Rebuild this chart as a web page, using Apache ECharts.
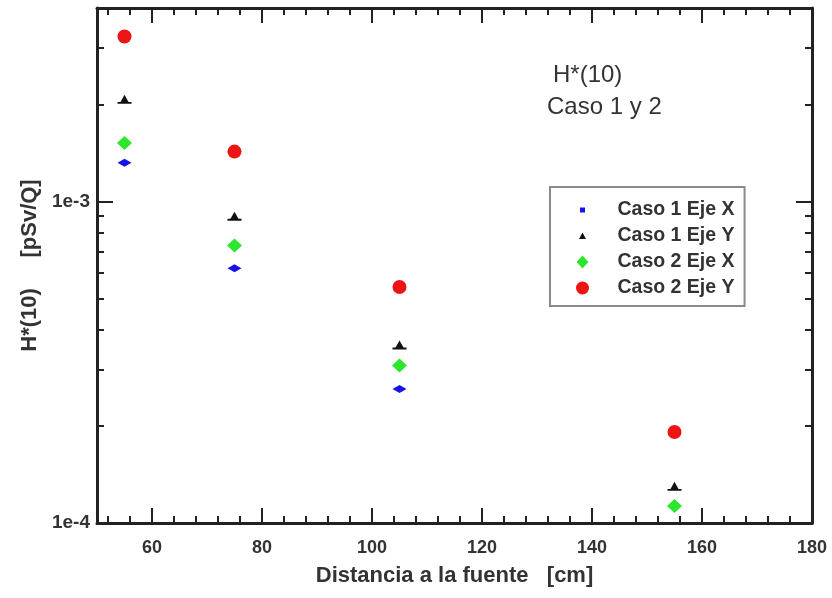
<!DOCTYPE html>
<html>
<head>
<meta charset="utf-8">
<script src="https://cdn.jsdelivr.net/npm/echarts@6/dist/echarts.min.js"></script>
<style>
  html, body { margin: 0; padding: 0; background: #fff; }
  #chart { width: 832px; height: 598px; }
</style>
</head>
<body>
<div id="chart"></div>
<script>
// distancia a la fuente [cm]
var distancias = [55, 75, 105, 155];
// H*(10) [pSv/Q]
var caso1EjeX = [1.32e-3, 6.2e-4, 2.61e-4, null];
var caso1EjeY = [2.08e-3, 9.0e-4, 3.58e-4, 1.30e-4];
var caso2EjeX = [1.52e-3, 7.3e-4, 3.09e-4, 1.13e-4];
var caso2EjeY = [3.26e-3, 1.43e-3, 5.42e-4, 1.92e-4];

var xTicks = [60, 80, 100, 120, 140, 160, 180];
var xMinorTicks = [52, 56, 64, 68, 72, 76, 84, 88, 92, 96, 104, 108, 112, 116,
  124, 128, 132, 136, 144, 148, 152, 156, 164, 168, 172, 176];
var yMinorTicks = [2e-4, 3e-4, 4e-4, 5e-4, 6e-4, 7e-4, 8e-4, 9e-4, 2e-3, 3e-3];

var FONT = '"Liberation Sans", Arial, sans-serif';
var AXIS_COLOR = '#222';

function pares(valores) {
  var out = [];
  distancias.forEach(function (d, i) {
    if (valores[i] != null) out.push([d, valores[i]]);
  });
  return out;
}

function etiquetaLog(v) {
  var e = Math.log10(v);
  var r = Math.round(e);
  if (Math.abs(e - r) > 1e-6) return '';
  return '1e' + r;
}

// one axis per side for the major ticks, one more for the minor ones
function ejeX(pos, minor, principal) {
  return {
    type: 'value', position: pos, min: 50, max: 180,
    splitLine: { show: false },
    axisLine: { show: !minor, onZero: false, lineStyle: { color: AXIS_COLOR, width: 3 } },
    axisTick: {
      show: true, inside: true, length: minor ? 7 : 15,
      customValues: minor ? xMinorTicks : xTicks,
      lineStyle: { color: AXIS_COLOR, width: 2 }
    },
    axisLabel: {
      show: principal, customValues: xTicks, margin: 16,
      fontFamily: FONT, fontWeight: 'bold', fontSize: 18, color: '#333'
    },
    name: principal ? 'Distancia a la fuente   [cm]' : '',
    nameLocation: 'middle', nameGap: 42,
    nameTextStyle: { fontFamily: FONT, fontWeight: 'bold', fontSize: 22, color: '#333' }
  };
}

function ejeY(pos, minor, principal) {
  var eje = {
    type: 'log', logBase: 10, position: pos, min: 1e-4, max: 4e-3,
    splitLine: { show: false },
    minorTick: { show: false },
    axisLine: { show: !minor, onZero: false, lineStyle: { color: AXIS_COLOR, width: 3 } },
    axisTick: {
      show: true, inside: true, length: minor ? 7 : 16,
      lineStyle: { color: AXIS_COLOR, width: 2 }
    },
    axisLabel: {
      show: principal, margin: 7, formatter: etiquetaLog,
      fontFamily: FONT, fontWeight: 'bold', fontSize: 19, color: '#333'
    },
    name: principal ? 'H*(10)     [pSv/Q]' : '',
    nameLocation: 'middle', nameGap: 55, nameRotate: 90,
    nameTextStyle: { fontFamily: FONT, fontWeight: 'bold', fontSize: 22, color: '#333' }
  };
  if (minor) eje.axisTick.customValues = yMinorTicks;
  return eje;
}

var chart = echarts.init(document.getElementById('chart'), null, { renderer: 'canvas' });

var tituloStyle = { fontFamily: FONT, fontWeight: 'normal', fontSize: 24, color: '#333' };

var option = {
  backgroundColor: '#fff',
  animation: false,
  title: [
    { text: 'H*(10)', left: 553, top: 63, padding: 0, textStyle: tituloStyle },
    { text: 'Caso 1 y 2', left: 547, top: 95, padding: 0, textStyle: tituloStyle }
  ],
  grid: { left: 97, right: 20, top: 8, bottom: 75 },
  xAxis: [
    ejeX('bottom', false, true),
    ejeX('bottom', true, false),
    ejeX('top', false, false),
    ejeX('top', true, false)
  ],
  yAxis: [
    ejeY('left', false, true),
    ejeY('left', true, false),
    ejeY('right', false, false),
    ejeY('right', true, false)
  ],
  legend: {
    orient: 'vertical',
    left: 550, top: 187,
    padding: [13, 10, 8, 26],
    itemWidth: 60, itemHeight: 13, itemGap: 6,
    borderColor: '#8a8a8a', borderWidth: 2, backgroundColor: '#fff',
    selectedMode: false,
    textStyle: { fontFamily: FONT, fontWeight: 'bold', fontSize: 19.5, lineHeight: 18, color: '#333' },
    data: [
      { name: 'Caso 1 Eje X', icon: 'path://M0,0M13,13M4,4h5v5h-5z' },
      { name: 'Caso 1 Eje Y', icon: 'path://M0,0M13,13M6.5,3L10,9.5H3Z' },
      { name: 'Caso 2 Eje X', icon: 'path://M6,0L12,6.5L6,13L0,6.5Z' },
      { name: 'Caso 2 Eje Y', icon: 'circle' }
    ]
  },
  series: [
    {
      name: 'Caso 1 Eje X', type: 'scatter',
      symbol: 'path://M0,4L7,0L14,4L7,8Z', symbolSize: [14, 8],
      itemStyle: { color: '#1414e6', opacity: 1 },
      data: pares(caso1EjeX)
    },
    {
      name: 'Caso 1 Eje Y', type: 'scatter',
      symbol: 'path://M0,7H14V8.6H0Z M7,1L11,7H3Z', symbolSize: [14, 9],
      itemStyle: { color: '#111', opacity: 1 },
      data: pares(caso1EjeY)
    },
    {
      name: 'Caso 2 Eje X', type: 'scatter',
      symbol: 'diamond', symbolSize: [15, 14],
      itemStyle: { color: '#2ee62e', opacity: 1 },
      data: pares(caso2EjeX)
    },
    {
      name: 'Caso 2 Eje Y', type: 'scatter',
      symbol: 'circle', symbolSize: 14,
      itemStyle: { color: '#ee1414', opacity: 1 },
      data: pares(caso2EjeY)
    }
  ]
};

chart.setOption(option);
</script>
</body>
</html>
